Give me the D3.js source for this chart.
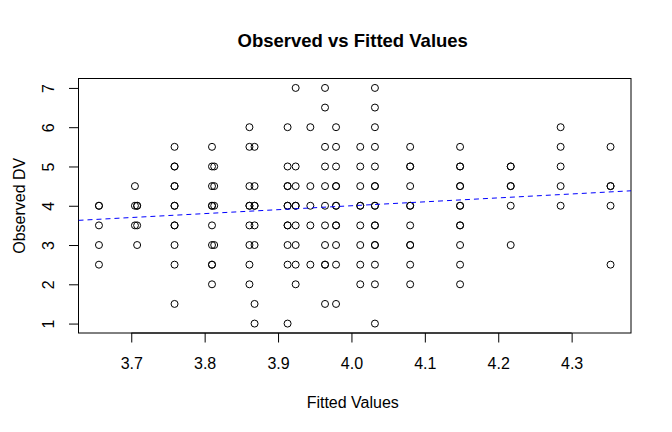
<!DOCTYPE html>
<html>
<head>
<meta charset="utf-8">
<script src="https://cdn.jsdelivr.net/npm/d3@7"></script>
<style>
  body { margin: 0; background: #fff; }
  text { font-family: "Liberation Sans", Arial, sans-serif; fill: #000; }
</style>
</head>
<body>
<script>
// distinct fitted values (x columns)
let fittedValues = [3.656, 3.705, 3.708, 3.759, 3.810, 3.813, 3.861, 3.868,
  3.913, 3.924, 3.944, 3.964, 3.979, 4.012, 4.032,
  4.080, 4.148, 4.217, 4.285, 4.353];

// observed DV for each fitted column (same order as fittedValues)
let observedByFitted = [
  [4.0, 4.0, 3.5, 3.0, 2.5],
  [4.5, 4.0, 3.5],
  [4.0, 4.0, 3.5, 3.0],
  [5.5, 5.0, 5.0, 4.5, 4.5, 4.0, 4.0, 3.5, 3.5, 3.0, 2.5, 1.5],
  [5.5, 5.0, 4.5, 4.0, 4.0, 3.5, 3.0, 2.5, 2.5, 2.0],
  [5.0, 4.5, 4.0, 3.0],
  [6.0, 5.5, 4.5, 4.0, 4.0, 3.5, 3.0, 2.5, 2.0],
  [5.5, 4.5, 4.0, 4.0, 3.5, 3.0, 1.5, 1.0],
  [6.0, 5.0, 4.5, 4.5, 4.0, 4.0, 3.5, 3.5, 3.0, 2.5, 1.0],
  [7.0, 5.0, 4.5, 4.0, 4.0, 3.5, 3.0, 2.5, 2.0],
  [6.0, 4.5, 4.0, 3.5, 2.5],
  [7.0, 6.5, 5.5, 5.0, 4.5, 4.0, 3.5, 3.0, 2.5, 2.5, 1.5],
  [6.0, 5.5, 5.0, 4.5, 4.5, 4.0, 4.0, 3.5, 3.5, 3.0, 2.5, 1.5],
  [5.5, 5.0, 4.5, 4.0, 4.0, 3.5, 3.0, 2.5, 2.0],
  [7.0, 6.5, 6.0, 5.5, 5.0, 4.5, 4.5, 4.0, 4.0, 3.5, 3.5, 3.0, 3.0, 2.5, 2.0, 1.0],
  [5.5, 5.0, 5.0, 4.5, 4.0, 4.0, 3.5, 3.0, 3.0, 2.5, 2.0],
  [5.5, 5.0, 5.0, 4.5, 4.5, 4.0, 4.0, 3.5, 3.5, 3.0, 2.5, 2.0],
  [5.0, 5.0, 4.5, 4.5, 4.0, 3.0],
  [6.0, 5.5, 5.0, 4.5, 4.0],
  [5.5, 4.5, 4.5, 4.0, 2.5]
];

let xTicks = [3.7, 3.8, 3.9, 4.0, 4.1, 4.2, 4.3];
let yTicks = [1, 2, 3, 4, 5, 6, 7];

// reference line (intercept, slope) of observed on fitted
let lineIntercept = 0;
let lineSlope = 1;

function draw() {
  "use strict";

  let width = 672, height = 432;
  let left = 78.5, right = 631, top = 78.5, bottom = 333;
  let fontStack = "'Liberation Sans', Arial, sans-serif";

  let points = [];
  fittedValues.forEach(function (f, i) {
    observedByFitted[i].forEach(function (o) {
      points.push({ x: f, y: o });
    });
  });

  // R style 4% padding around the data range
  let xExt = d3.extent(points, d => d.x);
  let yExt = d3.extent(points, d => d.y);
  let xPad = (xExt[1] - xExt[0]) * 0.04;
  let yPad = (yExt[1] - yExt[0]) * 0.04;

  let x = d3.scaleLinear()
    .domain([xExt[0] - xPad, xExt[1] + xPad])
    .range([left, right]);
  let y = d3.scaleLinear()
    .domain([yExt[0] - yPad, yExt[1] + yPad])
    .range([bottom, top]);

  let svg = d3.select("body")
    .append("svg")
    .attr("width", width)
    .attr("height", height);

  svg.append("defs")
    .append("clipPath")
    .attr("id", "plot-clip")
    .append("rect")
    .attr("x", left)
    .attr("y", top)
    .attr("width", right - left)
    .attr("height", bottom - top);

  // x axis
  let xAxis = svg.append("g")
    .attr("transform", "translate(0," + bottom + ")")
    .call(d3.axisBottom(x).tickValues(xTicks).tickFormat(d3.format(".1f")).tickSize(9.5).tickPadding(0));
  xAxis.select(".domain")
    .attr("d", "M" + x(xTicks[0]) + ",0H" + x(xTicks[xTicks.length - 1]))
    .attr("stroke", "#000");
  xAxis.selectAll("line").attr("stroke", "#000");
  xAxis.selectAll("text")
    .attr("font-size", "16px")
    .style("font-family", fontStack)
    .attr("y", 36)
    .attr("dy", 0);

  // y axis, labels rotated like R's default
  let yAxis = svg.append("g")
    .attr("transform", "translate(" + left + ",0)")
    .call(d3.axisLeft(y).tickValues(yTicks).tickFormat(d3.format("d")).tickSize(9.5).tickPadding(0));
  yAxis.select(".domain")
    .attr("d", "M0," + y(yTicks[0]) + "V" + y(yTicks[yTicks.length - 1]))
    .attr("stroke", "#000");
  yAxis.selectAll("line").attr("stroke", "#000");
  yAxis.selectAll("text")
    .attr("font-size", "16px")
    .style("font-family", fontStack)
    .attr("x", 0)
    .attr("y", 0)
    .attr("dy", 0)
    .attr("text-anchor", "middle")
    .attr("transform", "translate(-25,0) rotate(-90)");

  // box
  svg.append("rect")
    .attr("x", left)
    .attr("y", top)
    .attr("width", right - left)
    .attr("height", bottom - top)
    .attr("fill", "none")
    .attr("stroke", "#000")
    .attr("stroke-width", 1);

  // points
  svg.append("g")
    .selectAll("circle")
    .data(points)
    .enter()
    .append("circle")
    .attr("cx", d => x(d.x))
    .attr("cy", d => y(d.y))
    .attr("r", 3.5)
    .attr("fill", "none")
    .attr("stroke", "#000")
    .attr("stroke-width", 1);

  // dashed reference line
  let xd = x.domain();
  svg.append("line")
    .attr("clip-path", "url(#plot-clip)")
    .attr("x1", x(xd[0]))
    .attr("y1", y(lineIntercept + lineSlope * xd[0]))
    .attr("x2", x(xd[1]))
    .attr("y2", y(lineIntercept + lineSlope * xd[1]))
    .attr("stroke", "#0000ff")
    .attr("stroke-width", 1)
    .attr("stroke-dasharray", "5,4");

  // titles
  svg.append("text")
    .attr("x", (left + right) / 2 - 2)
    .attr("y", 47)
    .attr("text-anchor", "middle")
    .attr("font-size", "18.5px")
    .attr("font-weight", "bold")
    .text("Observed vs Fitted Values");

  svg.append("text")
    .attr("x", (left + right) / 2 - 2)
    .attr("y", 408)
    .attr("text-anchor", "middle")
    .attr("font-size", "16px")
    .text("Fitted Values");

  svg.append("text")
    .attr("transform", "translate(25," + ((top + bottom) / 2) + ") rotate(-90)")
    .attr("text-anchor", "middle")
    .attr("font-size", "16px")
    .text("Observed DV");
}

draw();
</script>
</body>
</html>
